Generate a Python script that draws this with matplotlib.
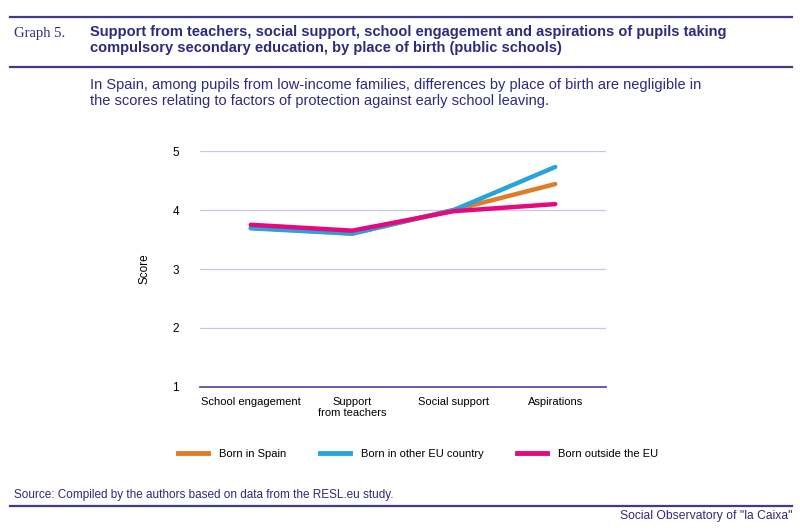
import numpy as np
import matplotlib.pyplot as plt
from matplotlib.lines import Line2D

# Data
categories = ["School engagement", "Support\nfrom teachers", "Social support", "Aspirations"]
born_spain = [3.70, 3.60, 4.00, 4.44]
born_other_eu = [3.69, 3.60, 4.00, 4.73]
born_outside_eu = [3.75, 3.65, 3.98, 4.10]
series_names = ["Born in Spain", "Born in other EU country", "Born outside the EU"]
y_ticks = [1, 2, 3, 4, 5]

navy = "#2E2A7E"
rule = "#3F3A8C"
colors = ["#E07B28", "#27A3DD", "#E5097F"]

plt.rcParams["font.family"] = ["Liberation Sans", "DejaVu Sans"]

fig = plt.figure(figsize=(8, 5.31), dpi=100)
ax = fig.add_axes([0.25, 0.2712, 0.5075, 0.4444])

x = np.arange(len(categories))
# orange under blue under pink, like the reference
for vals, c in zip([born_spain, born_other_eu, born_outside_eu], colors):
    ax.plot(x, vals, color=c, lw=3.2, solid_capstyle="round", solid_joinstyle="round")

ax.set_xlim(-0.5, 3.5)
ax.set_ylim(1, 5)
ax.set_yticks(y_ticks)
ax.set_yticklabels([str(t) for t in y_ticks], fontsize=8.5)
ax.set_xticks(x)
ax.set_xticklabels(categories, fontsize=8, linespacing=1.15)
ax.tick_params(length=0, pad=7)
ax.tick_params(axis="y", pad=15)
ax.grid(axis="y", color="#C9C6E2", lw=0.9)
ax.set_axisbelow(True)
for s in ["top", "right", "left"]:
    ax.spines[s].set_visible(False)
ax.spines["bottom"].set_color("#5B4FA8")
ax.spines["bottom"].set_linewidth(1.3)
ax.set_ylabel("Score", fontsize=8.5, labelpad=16)

handles = [Line2D([0], [0], color=c, lw=3.5) for c in colors]
fig.legend(handles, series_names, loc="center", bbox_to_anchor=(0.5225, 0.145), ncol=3,
           frameon=False, prop={"size": 8}, handlelength=2.7,
           columnspacing=3.0, handletextpad=1.0)

# header
fig.add_artist(Line2D([0.0125, 0.99], [1 - 17 / 531] * 2, color=rule, lw=1.6))
fig.add_artist(Line2D([0.0125, 0.99], [1 - 67 / 531] * 2, color=rule, lw=1.6))
fig.text(0.0175, 1 - 33 / 531, "Graph 5.", family="Liberation Serif", fontsize=10.5,
         color=navy, va="center")
fig.text(0.1125, 1 - 40 / 531,
         "Support from teachers, social support, school engagement and aspirations of pupils taking\n"
         "compulsory secondary education, by place of birth (public schools)",
         fontsize=10.5, fontweight="bold", color=navy, va="center", linespacing=1.1)
fig.text(0.1125, 1 - 93 / 531,
         "In Spain, among pupils from low-income families, differences by place of birth are negligible in\n"
         "the scores relating to factors of protection against early school leaving.",
         fontsize=10.5, color=navy, va="center", linespacing=1.15)

# footer
fig.text(0.0175, 1 - 495 / 531, "Source: Compiled by the authors based on data from the RESL.eu study.",
         fontsize=8.5, color=navy, va="center")
fig.add_artist(Line2D([0.0125, 0.99], [1 - 506 / 531] * 2, color=rule, lw=1.6))
fig.text(0.99, 1 - 516 / 531, "Social Observatory of \"la Caixa\"", fontsize=8.7, color=navy,
         va="center", ha="right")

fig.savefig("out.png", dpi=100)
